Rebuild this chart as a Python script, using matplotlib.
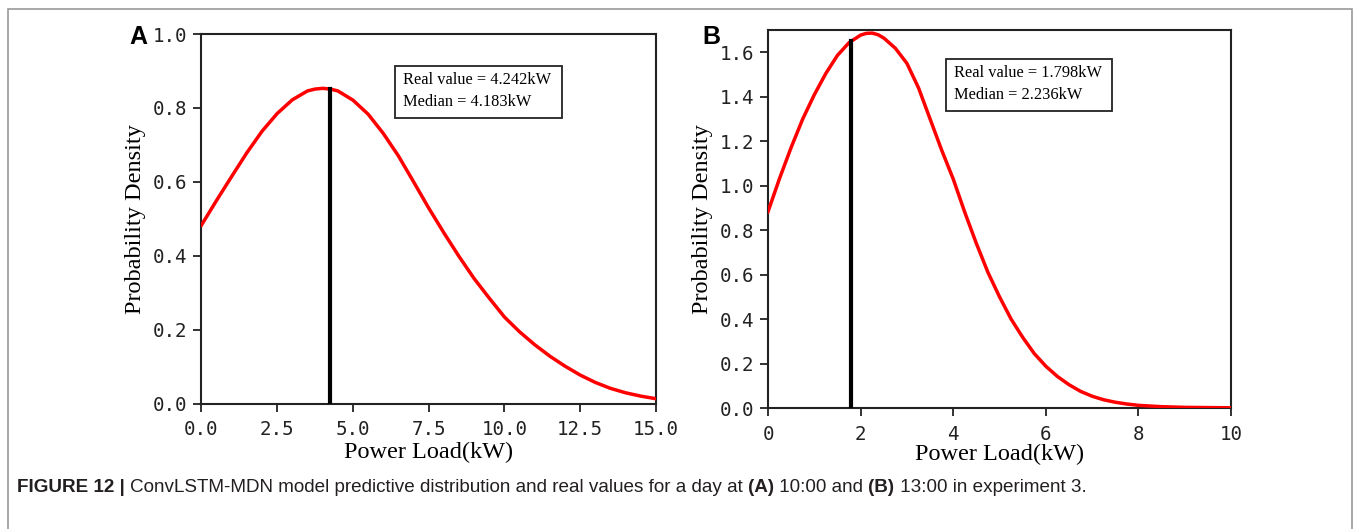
import numpy as np
import matplotlib
matplotlib.use('Agg')
import matplotlib.pyplot as plt
from matplotlib.patches import Rectangle

# panel A: predictive density (10:00)
load_a = [0.0, 0.5, 1.0, 1.5, 2.0, 2.5, 3.0, 3.5, 3.75, 4.0, 4.25, 4.5, 5.0, 5.5, 6.0,
          6.5, 7.0, 7.5, 8.0, 8.5, 9.0, 9.5, 10.0, 10.5, 11.0, 11.5, 12.0, 12.5, 13.0,
          13.5, 14.0, 14.5, 15.0]
dens_a = [0.483, 0.550, 0.615, 0.679, 0.737, 0.785, 0.822, 0.846, 0.851, 0.853, 0.851,
          0.846, 0.821, 0.783, 0.731, 0.670, 0.600, 0.529, 0.462, 0.398, 0.338, 0.285,
          0.234, 0.194, 0.159, 0.128, 0.101, 0.077, 0.057, 0.041, 0.029, 0.020, 0.013]
real_a = 4.242
median_a = 4.183

# panel B: predictive density (13:00)
load_b = [0.0, 0.25, 0.5, 0.75, 1.0, 1.25, 1.5, 1.75, 2.0, 2.125, 2.25, 2.375, 2.5, 2.75,
          3.0, 3.25, 3.5, 3.75, 4.0, 4.25, 4.5, 4.75, 5.0, 5.25, 5.5, 5.75, 6.0, 6.25,
          6.5, 6.75, 7.0, 7.25, 7.5, 7.75, 8.0, 8.5, 9.0, 9.5, 10.0]
dens_b = [0.883, 1.033, 1.172, 1.300, 1.409, 1.505, 1.586, 1.643, 1.677, 1.685, 1.686,
          1.679, 1.664, 1.618, 1.550, 1.440, 1.300, 1.160, 1.030, 0.880, 0.740, 0.610,
          0.500, 0.400, 0.318, 0.245, 0.188, 0.142, 0.105, 0.075, 0.053, 0.037, 0.026,
          0.018, 0.012, 0.006, 0.003, 0.002, 0.001]
real_b = 1.798
median_b = 2.236

xticks_a = [0.0, 2.5, 5.0, 7.5, 10.0, 12.5, 15.0]
yticks_a = [0.0, 0.2, 0.4, 0.6, 0.8, 1.0]
xticks_b = [0, 2, 4, 6, 8, 10]
yticks_b = [0.0, 0.2, 0.4, 0.6, 0.8, 1.0, 1.2, 1.4, 1.6]

TICK_FONT = 'DejaVu Sans Mono'
SERIF = 'Liberation Serif'

fig = plt.figure(figsize=(13.55, 5.29), dpi=100)

# outer frame of the figure
fig.patches.append(Rectangle((8 / 1355, -0.05), 1344 / 1355, 1 - 9 / 529 + 0.05,
                             transform=fig.transFigure, fill=False,
                             edgecolor='#9a9a9a', linewidth=1.2))


def draw_panel(ax, x, y, real, median, xlim, ylim, xticks, yticks, fmt, box, xpad):
    ax.plot(x, y, color='#ff0000', linewidth=2.5, zorder=3, solid_joinstyle='round')
    top = np.interp(real, x, y)
    ax.plot([real, real], [0, top], color='black', linewidth=3, zorder=4)
    ax.set_xlim(*xlim)
    ax.set_ylim(*ylim)
    ax.set_xticks(xticks)
    ax.set_yticks(yticks)
    ax.set_xticklabels([fmt(v) for v in xticks], family=TICK_FONT, fontsize=13.8, color='#222222')
    ax.set_yticklabels(['%.1f' % v for v in yticks], family=TICK_FONT, fontsize=13.8, color='#222222')
    ax.tick_params(axis='x', direction='out', length=6, width=1.3, pad=6, color='#222222')
    ax.tick_params(axis='y', direction='out', length=6, width=1.3, pad=4, color='#222222')
    for s in ax.spines.values():
        s.set_linewidth(1.5)
        s.set_color('#222222')
    ax.set_xlabel('Power Load(kW)', family=SERIF, fontsize=17.5, labelpad=xpad)
    ax.set_ylabel('Probability Density', family=SERIF, fontsize=17.5, labelpad=5)

    x0, x1, y0, y1, tx = box
    ax.add_patch(Rectangle((x0, y0), x1 - x0, y1 - y0, transform=ax.transAxes,
                           fill=False, edgecolor='#222222', linewidth=1.3, zorder=5))
    ax.text(tx, y0 + (y1 - y0) * 0.52,
            'Real value = %.3fkW\nMedian = %.3fkW' % (real, median),
            transform=ax.transAxes, family=SERIF, fontsize=11.8, va='center',
            linespacing=1.45, zorder=6)


ax_a = fig.add_axes([0.1487, 0.2372, 0.3354, 0.6985])
draw_panel(ax_a, load_a, dens_a, real_a, median_a, (0, 15), (0, 1.0),
           xticks_a, yticks_a, lambda v: '%.1f' % v,
           (0.426, 0.793, 0.773, 0.913, 0.443), 2)

ax_b = fig.add_axes([0.5668, 0.2287, 0.3417, 0.7146])
draw_panel(ax_b, load_b, dens_b, real_b, median_b, (0, 10), (0, 1.7),
           xticks_b, yticks_b, lambda v: '%d' % v,
           (0.384, 0.744, 0.786, 0.923, 0.402), 0)

fig.text(129 / 1355, 1 - 37 / 529, 'A', family='Liberation Sans', fontweight='bold',
         fontsize=18, va='center', ha='left')
fig.text(702 / 1355, 1 - 37 / 529, 'B', family='Liberation Sans', fontweight='bold',
         fontsize=18, va='center', ha='left')

# caption with bold parts, laid out piece by piece
caption = [('FIGURE 12 | ', 'bold'),
           ('ConvLSTM-MDN model predictive distribution and real values for a day at ', 'normal'),
           ('(A)', 'bold'), (' 10:00 and ', 'normal'), ('(B)', 'bold'),
           (' 13:00 in experiment 3.', 'normal')]
renderer = fig.canvas.get_renderer()
xpos = 17
for txt, weight in caption:
    t = fig.text(xpos / 1355, 1 - 492 / 529, txt, family='Liberation Sans',
                 fontweight=weight, fontsize=13.6, color='#231f20', va='baseline', ha='left')
    bb = t.get_window_extent(renderer=renderer)
    xpos += bb.width

fig.savefig('out.png', dpi=100)
